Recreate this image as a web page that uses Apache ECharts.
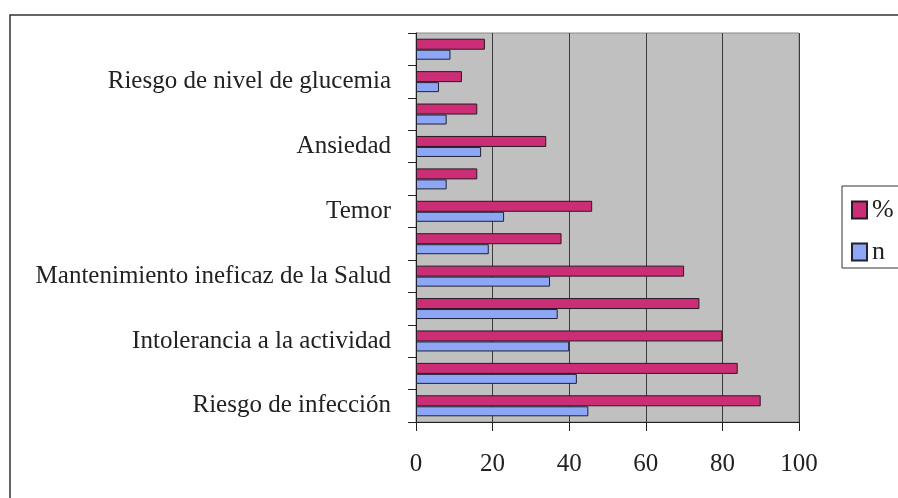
<!DOCTYPE html>
<html>
<head>
<meta charset="utf-8">
<script src="https://cdn.jsdelivr.net/npm/echarts@6/dist/echarts.min.js"></script>
<style>
  html, body { margin: 0; padding: 0; background: #fff; }
  #chart { width: 898px; height: 498px; }
</style>
</head>
<body>
<div id="chart"></div>
<script>
// categories from top to bottom (every second one has no visible label)
const categories = [
  '', 'Riesgo de nivel de glucemia',
  '', 'Ansiedad',
  '', 'Temor',
  '', 'Mantenimiento ineficaz de la Salud',
  '', 'Intolerancia a la actividad',
  '', 'Riesgo de infección'
]
const pctValues = [18, 12, 16, 34, 16, 46, 38, 70, 74, 80, 84, 90]
const nValues = [9, 6, 8, 17, 8, 23, 19, 35, 37, 40, 42, 45]
const xTicks = [0, 20, 40, 60, 80, 100]

const serif = '"Liberation Serif", "DejaVu Serif", serif'

const chart = echarts.init(document.getElementById('chart'))
chart.setOption({
  animation: false,
  backgroundColor: '#fff',
  textStyle: { fontFamily: serif, color: '#222' },
  graphic: [{
    type: 'rect',
    shape: { x: 10, y: 15, width: 1000, height: 1000 },
    style: { fill: 'none', stroke: '#333', lineWidth: 1.5 },
    silent: true
  }],
  legend: {
    orient: 'vertical',
    left: 842,
    top: 186,
    data: ['%', 'n'],
    icon: 'rect',
    itemWidth: 15,
    itemHeight: 17,
    itemGap: 16,
    padding: [11, 60, 3, 9],
    borderColor: '#333',
    borderWidth: 1,
    textStyle: { fontFamily: serif, fontSize: 26, color: '#222' }
  },
  grid: {
    left: 416,
    right: 99,
    top: 33,
    bottom: 76,
    show: true,
    backgroundColor: '#c0c0c0',
    borderColor: '#888',
    borderWidth: 1
  },
  xAxis: {
    type: 'value',
    min: xTicks[0],
    max: xTicks[xTicks.length - 1],
    interval: 20,
    axisLine: { show: true, lineStyle: { color: '#222', width: 1 } },
    axisTick: { show: true, length: 9, lineStyle: { color: '#222' } },
    axisLabel: { fontFamily: serif, fontSize: 25, color: '#222', margin: 30 },
    splitLine: { show: true, lineStyle: { color: '#3a3a3a', width: 1 } }
  },
  yAxis: {
    type: 'category',
    inverse: true,
    data: categories,
    axisLine: { show: true, lineStyle: { color: '#222', width: 1 } },
    axisTick: { show: true, interval: 0, length: 8, inside: false, lineStyle: { color: '#222' } },
    axisLabel: { interval: 0, fontFamily: serif, fontSize: 25, color: '#222', margin: 25 },
    splitLine: { show: false }
  },
  series: [
    {
      name: '%',
      type: 'bar',
      data: pctValues,
      barWidth: 11,
      barGap: '0%',
      itemStyle: { color: '#cc2d77', borderColor: '#2a1a22', borderWidth: 1 }
    },
    {
      name: 'n',
      type: 'bar',
      data: nValues,
      barWidth: 10,
      barGap: '0%',
      itemStyle: { color: '#8da6f5', borderColor: '#1e2233', borderWidth: 1 }
    }
  ]
})
</script>
</body>
</html>
